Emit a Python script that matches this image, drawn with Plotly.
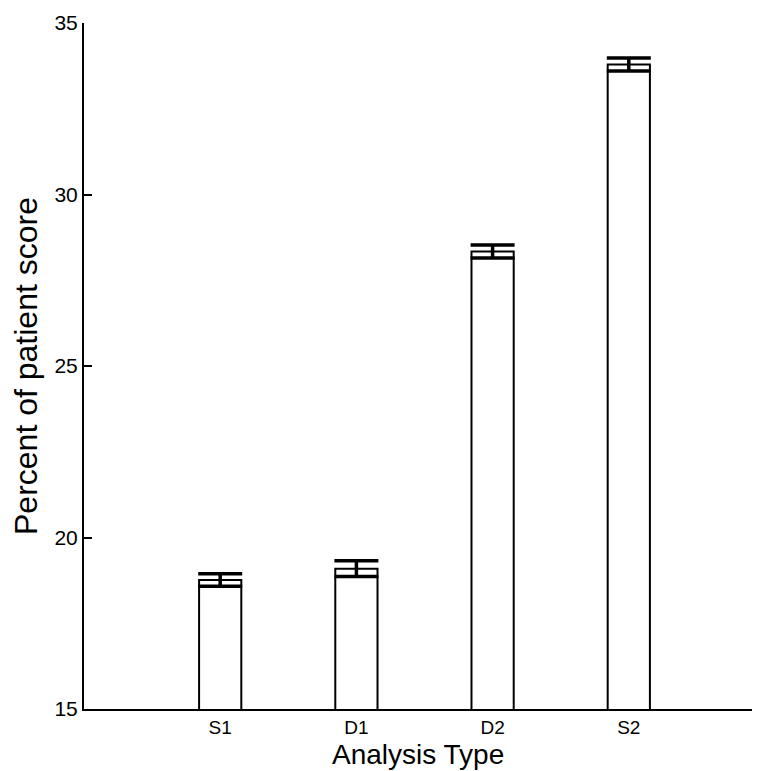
import plotly.graph_objects as go

categories = ["S1", "D1", "D2", "S2"]
values = [18.76, 19.09, 28.34, 33.79]
errors = [0.18, 0.23, 0.19, 0.19]
y_ticks = [15, 20, 25, 30, 35]
x_title = "Analysis Type"
y_title = "Percent of patient score"

fig = go.Figure()
fig.add_trace(go.Bar(
    x=list(range(len(categories))),
    y=values,
    width=0.31,
    marker=dict(color="white", line=dict(color="black", width=2)),
    error_y=dict(type="data", array=errors, visible=True, color="black", thickness=3.5, width=22),
))

fig.update_layout(
    width=760, height=771,
    margin=dict(l=76, r=3, t=7, b=70),
    plot_bgcolor="white", paper_bgcolor="white",
    showlegend=False,
    font=dict(family="Liberation Sans, Arial, sans-serif", color="black"),
)
fig.update_xaxes(
    range=[-1, 4],
    tickmode="array", tickvals=list(range(len(categories))), ticktext=categories,
    showline=True, linecolor="black", linewidth=2,
    ticks="", showgrid=False, zeroline=False,
    tickfont=dict(size=19),
    ticklabelstandoff=0,
)
fig.update_yaxes(
    range=[15, 35],
    tickvals=y_ticks,
    showline=True, linecolor="black", linewidth=2,
    ticks="inside", ticklen=8, tickwidth=2, tickcolor="black",
    showgrid=False, zeroline=False,
    tickfont=dict(size=21),
    ticklabeloverflow="allow",
    title=dict(text=y_title, font=dict(size=32), standoff=10),
)
fig.add_annotation(
    text=x_title, xref="paper", yref="paper", x=0.49, y=0,
    xanchor="center", yanchor="middle", yshift=-45, showarrow=False,
    font=dict(size=28),
)

fig.write_html("out.html")
